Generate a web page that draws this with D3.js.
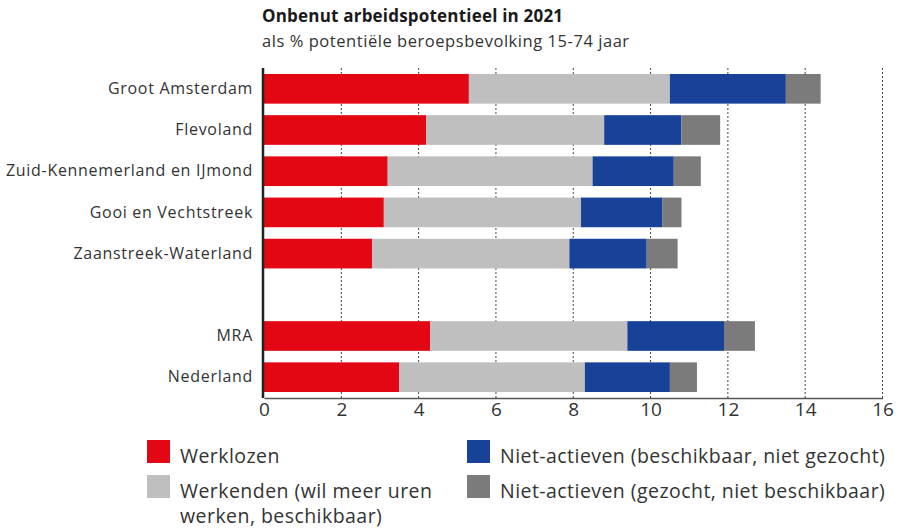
<!DOCTYPE html>
<html><head><meta charset="utf-8">
<script src="https://cdn.jsdelivr.net/npm/d3@7"></script>
<style>body{margin:0;background:#fff}svg{display:block}text{font-family:"Open Sans",sans-serif}</style>
</head><body><svg id="c" width="900" height="528"></svg>
<script>
const categories = ["Groot Amsterdam","Flevoland","Zuid-Kennemerland en IJmond","Gooi en Vechtstreek","Zaanstreek-Waterland","","MRA","Nederland"];
const werklozen   = [5.3, 4.2, 3.2, 3.1, 2.8, null, 4.3, 3.5];
const werkenden   = [5.2, 4.6, 5.3, 5.1, 5.1, null, 5.1, 4.8];
const nietBeschik = [3.0, 2.0, 2.1, 2.1, 2.0, null, 2.5, 2.2];
const nietGezocht = [0.9, 1.0, 0.7, 0.5, 0.8, null, 0.8, 0.7];
const xTicks = [0,2,4,6,8,10,12,14,16];
const seriesNames = ["Werklozen","Werkenden (wil meer uren werken, beschikbaar)","Niet-actieven (beschikbaar, niet gezocht)","Niet-actieven (gezocht, niet beschikbaar)"];
const colors = ["#E30613","#BFBFBF","#174297","#7B7B7B"];
const title = "Onbenut arbeidspotentieel in 2021";
const subtitle = "als % potentiële beroepsbevolking 15-74 jaar";

const svg = d3.select("#c");
const keys = ["w","k","b","g"];
const rows = categories.map((c,i)=>({cat:c||"_gap", w:werklozen[i]||0, k:werkenden[i]||0, b:nietBeschik[i]||0, g:nietGezocht[i]||0}));
const stack = d3.stack().keys(keys)(rows);

const x = d3.scaleLinear().domain([0,16]).range([264,882.5]);
const y = d3.scaleBand().domain(rows.map(r=>r.cat)).range([68,398]).paddingInner(0.28).paddingOuter(0.145);

// title
svg.append("text").attr("x",262).attr("y",22).attr("font-size",17).attr("font-weight",700).attr("letter-spacing",0.2).attr("fill","#1a1a1a").text(title);
svg.append("text").attr("x",262).attr("y",47).attr("font-size",16.5).attr("letter-spacing",0.55).attr("fill","#333").text(subtitle);

// grid
svg.append("g").selectAll("line").data(xTicks.filter(d=>d>0)).join("line")
  .attr("x1",d=>x(d)).attr("x2",d=>x(d)).attr("y1",68).attr("y2",398)
  .attr("stroke","#444").attr("stroke-width",1).attr("stroke-dasharray","2,2");

// bars
svg.append("g").selectAll("g").data(stack).join("g").attr("fill",(d,i)=>colors[i])
  .selectAll("rect").data(d=>d.filter(p=>p.data.cat!=="_gap")).join("rect")
  .attr("x",d=>x(d[0])).attr("width",d=>x(d[1])-x(d[0]))
  .attr("y",d=>y(d.data.cat)).attr("height",y.bandwidth());

// x axis
const xa = svg.append("g").attr("transform","translate(0,398)").call(d3.axisBottom(x).tickValues(xTicks).tickSize(0).tickPadding(4));
xa.select(".domain").attr("stroke","#555").attr("stroke-width",1.5);
xa.selectAll("text").attr("font-size",19).attr("fill","#333").attr("font-family","'Open Sans',sans-serif");

// y axis
const ya = svg.append("g").attr("transform","translate(263,0)").call(d3.axisLeft(y).tickSize(0).tickPadding(10).tickFormat(d=>d==="_gap"?"":d));
ya.select(".domain").attr("stroke","#222").attr("stroke-width",2.5).attr("d","M0,68V398");
ya.selectAll("text").attr("font-size",16).attr("letter-spacing",0.7).attr("fill","#333").attr("font-family","'Open Sans',sans-serif");

// legend
const leg = [
  {i:0, x:147, y:440, lines:["Werklozen"]},
  {i:1, x:147, y:475, lines:["Werkenden (wil meer uren","werken, beschikbaar)"]},
  {i:2, x:467, y:440, lines:["Niet-actieven (beschikbaar, niet gezocht)"]},
  {i:3, x:467, y:475, lines:["Niet-actieven (gezocht, niet beschikbaar)"]}
];
const lg = svg.append("g").selectAll("g").data(leg).join("g").attr("transform",d=>`translate(${d.x},${d.y})`);
lg.append("rect").attr("width",23).attr("height",23).attr("fill",d=>colors[d.i]);
lg.append("text").attr("y",23).attr("font-size",19.5).attr("letter-spacing",0.45).attr("fill","#333")
  .selectAll("tspan").data(d=>d.lines).join("tspan").attr("x",33).attr("dy",(d,j)=>j?25:0).text(d=>d);
</script></body></html>
